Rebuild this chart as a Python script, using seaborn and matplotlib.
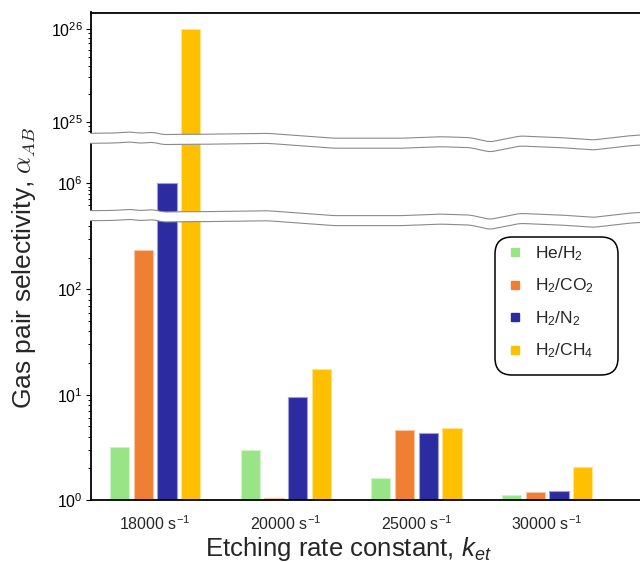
import numpy as np
import pandas as pd
import matplotlib
matplotlib.use("Agg")
import matplotlib.pyplot as plt
import seaborn as sns
from matplotlib.patches import Polygon, FancyBboxPatch
from matplotlib.lines import Line2D
from matplotlib.transforms import IdentityTransform
from matplotlib.ticker import FixedLocator, NullFormatter
import matplotlib.colors as mcolors

# ---------------- data ----------------
rates = ["18000 s$^{-1}$", "20000 s$^{-1}$", "25000 s$^{-1}$", "30000 s$^{-1}$"]
pairs = ["He/H$_2$", "H$_2$/CO$_2$", "H$_2$/N$_2$", "H$_2$/CH$_4$"]
he_h2 = [3.2, 2.98, 1.61, 1.11]
h2_co2 = [237, 1.045, 4.6, 1.2]
h2_n2 = [1.0e6, 9.6, 4.3, 1.21]
h2_ch4 = [1.0e26, 17.7, 4.8, 2.06]
colors = ["#98E486", "#EE7F33", "#2C2CA0", "#FEC000"]

# break-line shape (decoration): x pixel, y pixel of upper break's first line
break_x = [91, 115, 130, 140, 153, 163, 180, 200, 267, 333, 400, 440, 470, 490, 520, 560, 593, 627, 640]
break_y = [133.3, 133.0, 131.9, 133.2, 132.2, 134.6, 134.3, 134.3, 133.3, 138.2, 138.3, 136.7, 137.6, 142.0, 136.0, 137.6, 140.0, 136.0, 135.0]

df = pd.DataFrame({
    "rate": np.repeat(rates, len(pairs)),
    "pair": pairs * len(rates),
    "value": np.array([he_h2, h2_co2, h2_n2, h2_ch4]).T.ravel(),
})

sns.set_style("ticks")
plt.rcParams["font.family"] = ["Liberation Sans", "DejaVu Sans"]
plt.rcParams["mathtext.fontset"] = "custom"
plt.rcParams["mathtext.rm"] = "Liberation Sans"
plt.rcParams["mathtext.it"] = "Liberation Sans:italic"
plt.rcParams["mathtext.bf"] = "Liberation Sans:bold"
plt.rcParams["mathtext.sf"] = "Liberation Sans"

W, H = 640, 562
fig = plt.figure(figsize=(W / 100, H / 100), dpi=100, facecolor="white")

LEFT, RIGHT = 91, 640


def rect(top, bottom):
    return [LEFT / W, 1 - bottom / H, (RIGHT - LEFT) / W, (bottom - top) / H]


# panel: (top px, bottom px, ref exponent, ref px, px per decade)
panels = [
    (12.5, 142.5, 26, 29.0, 92.7),
    (141.5, 219.5, 6, 183.3, 72.0),
    (218.5, 500.0, 0, 500.0, 105.3),
]

axes = []
for i, (top, bot, ref, refpx, dec) in enumerate(panels):
    ax = fig.add_axes(rect(top, bot))
    ax.set_facecolor("none")
    sns.barplot(data=df, x="rate", y="value", hue="pair", palette=colors,
                hue_order=pairs, order=rates, width=0.727, gap=0.19,
                errorbar=None, legend=False, ax=ax, saturation=1)
    ax.set_yscale("log")
    ytop = ref + (refpx - top) / dec
    ybot = ref - (bot - refpx) / dec
    ax.set_ylim(10 ** ybot, 10 ** ytop)
    ax.set_xlim(-0.49, 3.71)
    ax.set_xlabel("")
    ax.set_ylabel("")
    for p in ax.patches:
        fc = np.array(mcolors.to_rgb(p.get_facecolor()))
        p.set_edgecolor(tuple(fc * 0.45 + 0.55))
        p.set_linewidth(0.8)
    for s in ["left", "bottom", "top", "right"]:
        ax.spines[s].set_linewidth(1.3)
        ax.spines[s].set_color("black")
    ax.spines["right"].set_visible(False)
    ax.tick_params(axis="y", which="major", length=3.8, width=0.8, labelsize=11.5, pad=2, colors="black")
    ax.tick_params(axis="y", which="minor", length=2.3, width=0.7, colors="black")
    ax.yaxis.set_minor_formatter(NullFormatter())
    if i == 0:
        ax.spines["bottom"].set_visible(False)
        ax.tick_params(axis="x", bottom=False, labelbottom=False)
    elif i == 1:
        ax.spines["bottom"].set_visible(False)
        ax.spines["top"].set_visible(False)
        ax.tick_params(axis="x", bottom=False, labelbottom=False)
        ax.yaxis.set_major_locator(FixedLocator([1e6]))
        ax.yaxis.set_minor_locator(FixedLocator([5e5, 6e5, 7e5, 8e5, 9e5]))
    else:
        ax.spines["top"].set_visible(False)
        ax.tick_params(axis="x", length=0, labelsize=11.5, pad=10)
    axes.append(ax)

# ---------- break bands ----------
xs = np.arange(80, 646, 1.0)
ya = np.interp(xs, break_x, break_y)
k = np.ones(9) / 9
ya = np.convolve(np.pad(ya, 4, mode="edge"), k, mode="valid")
for off in [0.0, 77.4]:
    upper = ya + off
    lower = ya + off + 10.0
    verts = np.vstack([np.column_stack([xs, H - upper]),
                       np.column_stack([xs[::-1], H - lower[::-1]])])
    fig.add_artist(Polygon(verts, closed=True, facecolor="white", edgecolor="none",
                           transform=IdentityTransform(), zorder=5))
    m = xs >= 90.5
    for yy in (upper, lower):
        fig.add_artist(Line2D(xs[m], H - yy[m], color="#8a8a8a", lw=0.8,
                              transform=IdentityTransform(), zorder=6))

# ---------- legend ----------
frame = FancyBboxPatch((495, H - 375), 123, 138,
                       boxstyle="round,pad=0,rounding_size=17",
                       transform=IdentityTransform(), facecolor="white",
                       edgecolor="black", lw=1.1, zorder=7)
fig.add_artist(frame)
handles = [Line2D([], [], marker="s", linestyle="none", markersize=6,
                  markerfacecolor=c, markeredgecolor=c) for c in colors]
leg = fig.legend(handles, pairs, loc="upper left",
                 bbox_to_anchor=(506.7 / W, 1 - 244 / H), frameon=False,
                 fontsize=12.5, handlelength=1.0, handletextpad=0.65,
                 labelspacing=0.8, borderpad=0, borderaxespad=0)
leg.set_zorder(8)

# ---------- axis titles ----------
fig.text(24 / W, 1 - 268 / H, r"Gas pair selectivity, $\alpha_{AB}$", rotation=90,
         ha="center", va="center", fontsize=19, math_fontfamily="cm")
fig.text(348 / W, 1 - 556 / H, r"Etching rate constant, $k_{et}$",
         ha="center", va="baseline", fontsize=18.5)

fig.savefig("out.png", dpi=100, facecolor="white")
